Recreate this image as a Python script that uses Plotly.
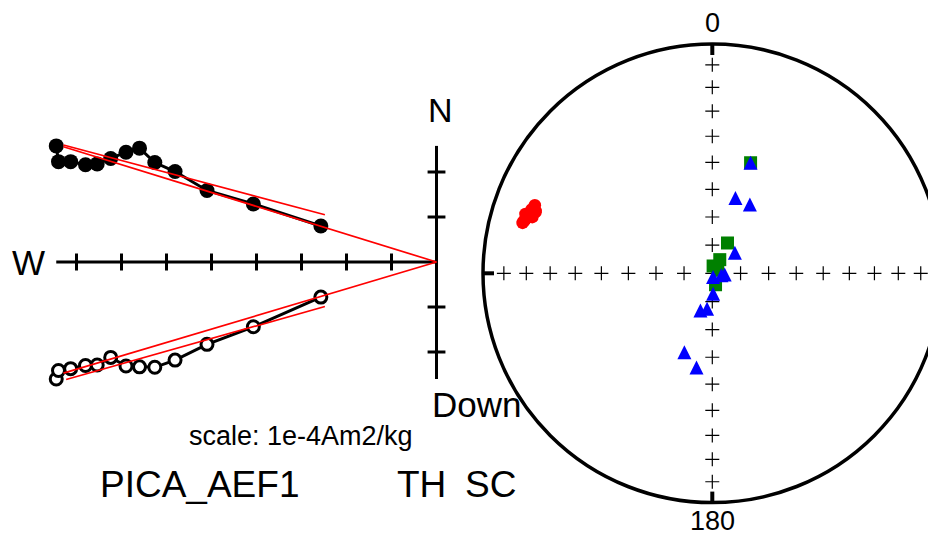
import numpy as np
import plotly.graph_objects as go

# ---------------- data ----------------
# Zijderveld demagnetization steps (units of one axis tick)
zij_east = [-8.45, -8.40, -8.13, -7.80, -7.54, -7.24, -6.90, -6.60, -6.26, -5.81, -5.10, -4.07, -2.57]
zij_north = [2.58, 2.23, 2.23, 2.16, 2.18, 2.30, 2.44, 2.53, 2.21, 2.01, 1.59, 1.29, 0.80]
zij_down = [2.60, 2.41, 2.37, 2.30, 2.29, 2.12, 2.31, 2.33, 2.34, 2.18, 1.83, 1.44, 0.78]

# PCA fit lines (free and anchored), endpoints in the same units
fit_free_h_e = [-8.29, -2.48]
fit_free_h_n = [2.60, 1.05]
fit_anch_h_e = [-8.29, 0.0]
fit_anch_h_n = [2.56, 0.0]
fit_free_v_e = [-8.23, -2.48]
fit_free_v_d = [2.61, 0.99]
fit_anch_v_e = [-8.29, 0.0]
fit_anch_v_d = [2.47, 0.0]

# axis tick values
h_ticks = [-1, -2, -3, -4, -5, -6, -7, -8]
v_ticks = [-2, -1, 1, 2]

# equal-area directions
tri_dec = [19.1, 17.1, 28.6, 47.7, 167.8, 102.3, 95.9, 177.7, 197.7, 188.4, 199.5, 189.5]
tri_inc = [47.7, 61.9, 62.0, 79.2, 88.7, 86.7, 85.6, 82.8, 76.2, 77.3, 60.1, 55.7]
sq_dec = [19.1, 26.6, 28.7, 6.3, 61.4, 164.2]
sq_inc = [47.7, 78.0, 84.5, 87.4, 87.8, 85.8]
net_incs = [10, 20, 30, 40, 50, 60, 70, 80]
net_decs = [0, 90, 180, 270]

# ---------------- helpers ----------------
def eqarea(dec, inc):
    dec = np.radians(np.asarray(dec, float))
    inc = np.asarray(inc, float)
    r = np.sqrt(2) * np.sin(np.radians(90 - np.abs(inc)) / 2)
    return r * np.sin(dec), r * np.cos(dec)

E = np.array(zij_east); N = np.array(zij_north); D = np.array(zij_down)
zdec = np.degrees(np.arctan2(E, N)) % 360
zinc = np.degrees(np.arctan2(D, np.hypot(E, N)))

WW, WH = 936, 536          # browser window
OFF = 8                    # page body margin
W, H = WW - OFF, WH - OFF  # figure size
ox, oy, u = 436.5, 262.0, 45.0       # Zijderveld origin & px per unit (window px)
cx, cy, R = 712.3, 273.3, 229.3       # stereonet centre & radius (window px)

fig = go.Figure()
blk = "black"

# Zijderveld axes
fig.add_trace(go.Scatter(x=[min(E.min(), 0), 0], y=[0, 0], mode="lines",
                         line=dict(color=blk, width=3), hoverinfo="skip"))
fig.add_trace(go.Scatter(x=[0, 0], y=[N.max(), -D.max()], mode="lines",
                         line=dict(color=blk, width=3), hoverinfo="skip"))
tl = 8.5 / u
tx, ty = [], []
for t in h_ticks:
    tx += [t, t, None]; ty += [-tl, tl, None]
for t in v_ticks:
    tx += [-tl * 1.05, tl * 1.05, None]; ty += [t, t, None]
fig.add_trace(go.Scatter(x=tx, y=ty, mode="lines", line=dict(color=blk, width=3),
                         hoverinfo="skip"))

# horizontal projection (filled)
fig.add_trace(go.Scatter(x=E, y=N, mode="lines+markers",
                         line=dict(color=blk, width=3),
                         marker=dict(symbol="circle", size=15, color=blk)))
# vertical projection (open)
fig.add_trace(go.Scatter(x=E, y=-D, mode="lines+markers",
                         line=dict(color=blk, width=3),
                         marker=dict(symbol="circle", size=12, color="white",
                                     line=dict(color=blk, width=3))))
# fit lines
for xs, ys in [(fit_free_h_e, fit_free_h_n), (fit_anch_h_e, fit_anch_h_n),
               (fit_free_v_e, [-v for v in fit_free_v_d]),
               (fit_anch_v_e, [-v for v in fit_anch_v_d])]:
    fig.add_trace(go.Scatter(x=xs, y=ys, mode="lines",
                             line=dict(color="red", width=1.7), hoverinfo="skip"))

# ---------------- stereonet ----------------
ax2 = dict(xaxis="x2", yaxis="y2")
# crosses
cd, ci = [], []
for d in net_decs:
    for i in net_incs:
        cd.append(d); ci.append(i)
cd.append(0); ci.append(90)
gx, gy = eqarea(cd, ci)
fig.add_trace(go.Scatter(x=gx, y=gy, mode="markers", **ax2,
                         marker=dict(symbol="cross-thin", size=10,
                                     line=dict(color=blk, width=1.2)),
                         hoverinfo="skip"))
# cardinal ticks
tk = 11 / R
sx, sy = [], []
for d in net_decs:
    a = np.radians(d)
    sx += [np.sin(a), (1 - tk) * np.sin(a), None]
    sy += [np.cos(a), (1 - tk) * np.cos(a), None]
fig.add_trace(go.Scatter(x=sx, y=sy, mode="lines", **ax2,
                         line=dict(color=blk, width=4), hoverinfo="skip"))

# demag directions (red)
rx, ry = eqarea(zdec, zinc)
fig.add_trace(go.Scatter(x=rx, y=ry, mode="markers", **ax2,
                         marker=dict(symbol="circle", size=12.5, color="red")))
# squares
qx, qy = eqarea(sq_dec, sq_inc)
fig.add_trace(go.Scatter(x=qx, y=qy, mode="markers", **ax2,
                         marker=dict(symbol="square", size=13, color="#008000")))
# triangles: 'arrow-up' has its apex at the point, so lift by half its height
TRI = 14
px_, py_ = eqarea(tri_dec, tri_inc)
fig.add_trace(go.Scatter(x=px_, y=py_ + (TRI / 2) / R, mode="markers", **ax2,
                         marker=dict(symbol="arrow-up", size=TRI, color="#0000ff",
                                     line=dict(width=0))))

fig.add_shape(type="circle", xref="x2", yref="y2", x0=-1, x1=1, y0=-1, y1=1,
              line=dict(color=blk, width=3.5))

# ---------------- layout ----------------
FONT = "Liberation Sans, Arial, Helvetica, sans-serif"
fig.update_layout(
    width=W, height=H, margin=dict(l=0, r=0, t=0, b=0),
    paper_bgcolor="white", plot_bgcolor="white", showlegend=False,
    font=dict(family=FONT, color=blk),
    xaxis=dict(domain=[0, 1], range=[(OFF - ox) / u, (WW - ox) / u],
               visible=False, fixedrange=True),
    yaxis=dict(domain=[0, 1], range=[-(WH - oy) / u, (oy - OFF) / u],
               visible=False, fixedrange=True),
    xaxis2=dict(overlaying="x", anchor="y2", range=[(OFF - cx) / R, (WW - cx) / R],
                visible=False, fixedrange=True),
    yaxis2=dict(overlaying="y", anchor="x2", range=[-(WH - cy) / R, (cy - OFF) / R],
                visible=False, fixedrange=True),
)

def ann(text, px, py, size):
    fig.add_annotation(text=text, x=(px - OFF) / W, y=1 - (py - OFF) / H,
                       xref="paper", yref="paper",
                       showarrow=False, xanchor="center", yanchor="middle",
                       font=dict(size=size, family=FONT, color=blk))

ann("W", 28, 262, 35)
ann("N", 440, 110, 34)
ann("Down", 476, 404, 35)
ann("scale: 1e-4Am2/kg", 301, 436, 27)
ann("PICA_AEF1", 199, 484, 37)
ann("TH", 421, 484, 37)
ann("SC", 490, 484, 37)
ann("0", cx, 23, 27)
ann("180", cx, 521, 27)

fig.write_html("out.html")
